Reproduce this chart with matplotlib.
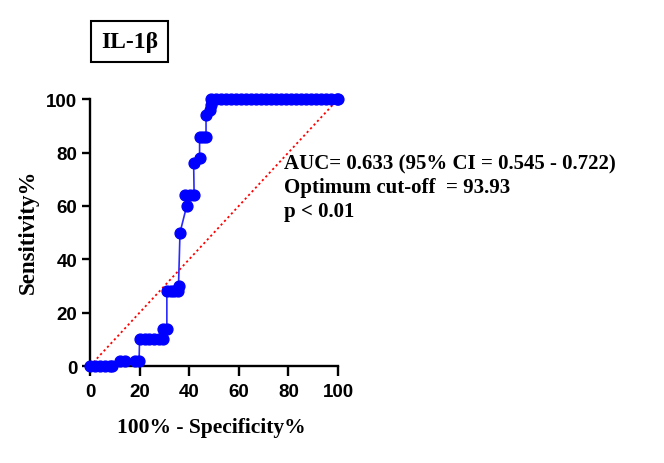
import numpy as np
import matplotlib
matplotlib.use("Agg")
import matplotlib.pyplot as plt

# ROC points (100% - specificity, sensitivity)
fpr = [0, 2, 4, 6, 8, 9,
       12, 14, 18, 19.8,
       20, 22, 24, 26, 28, 29.5,
       29.5, 31,
       31, 32.5, 34, 35.5,
       35.7, 36.3, 39,
       38.5, 40.3, 42,
       41.8, 44.2,
       44.2, 45.5, 46.8,
       46.8, 48.4, 49,
       49, 51, 53, 55, 57, 59, 61, 63, 65, 67, 69, 71, 73, 75, 77,
       79, 81, 83, 85, 87, 89, 91, 93, 95, 97, 99.5, 100]
sens = [0, 0, 0, 0, 0, 0,
        2, 2, 2, 2,
        10, 10, 10, 10, 10, 10,
        14, 14,
        28, 28, 28, 28,
        30, 50, 60,
        64, 64, 64,
        76, 78,
        86, 86, 86,
        94, 96, 98,
        100, 100, 100, 100, 100, 100, 100, 100, 100, 100, 100, 100, 100, 100, 100,
        100, 100, 100, 100, 100, 100, 100, 100, 100, 100, 100, 100]

ticks = [0, 20, 40, 60, 80, 100]
title = "IL-1\u03b2"
stats_text = "AUC= 0.633 (95% CI = 0.545 - 0.722)\nOptimum cut-off  = 93.93\np < 0.01"

SERIF = "Liberation Serif"
SANS = "Liberation Sans"

fig = plt.figure(figsize=(6.64, 4.64), dpi=100)
ax = fig.add_axes([0.1355, 0.209, 0.3735, 0.575])

ax.plot([0, 100], [0, 100], color="red", linestyle=(0, (1.2, 1.6)), linewidth=1.3, zorder=2)
ax.plot(fpr, sens, color="#2a2aff", linewidth=1.2, marker="o", markersize=7.8,
        markerfacecolor="#0000ff", markeredgecolor="#0000ff", clip_on=False, zorder=3)

ax.set_xlim(0, 100)
ax.set_ylim(0, 100)
ax.set_xticks(ticks)
ax.set_yticks(ticks)
ax.set_xticklabels([str(t) for t in ticks], fontfamily=SANS, fontweight="bold", fontsize=13.5)
ax.set_yticklabels([str(t) for t in ticks], fontfamily=SANS, fontweight="bold", fontsize=13.5)
for s in ["top", "right"]:
    ax.spines[s].set_visible(False)
for s in ["left", "bottom"]:
    ax.spines[s].set_linewidth(1.7)
ax.tick_params(axis="x", direction="out", length=7.5, width=1.7, pad=5)
ax.tick_params(axis="y", direction="out", length=6, width=1.7, pad=3)

ax.set_xlabel("100% - Specificity%", fontfamily=SERIF, fontweight="bold", fontsize=15.5, va="center")
ax.set_ylabel("Sensitivity%", fontfamily=SERIF, fontweight="bold", fontsize=16.5, va="center")
ax.xaxis.set_label_coords(0.49, -0.228)
ax.yaxis.set_label_coords(-0.25, 0.506)

fig.text(0.195, 0.908, title, fontfamily=SERIF, fontweight="bold", fontsize=17,
         ha="center", va="center",
         bbox=dict(boxstyle="square,pad=0.42", facecolor="white", edgecolor="black", linewidth=1.5))

fig.text(0.428, 0.594, stats_text, fontfamily=SERIF, fontweight="bold", fontsize=15,
         ha="left", va="center", linespacing=1.25)

fig.savefig("out.png", dpi=100)
